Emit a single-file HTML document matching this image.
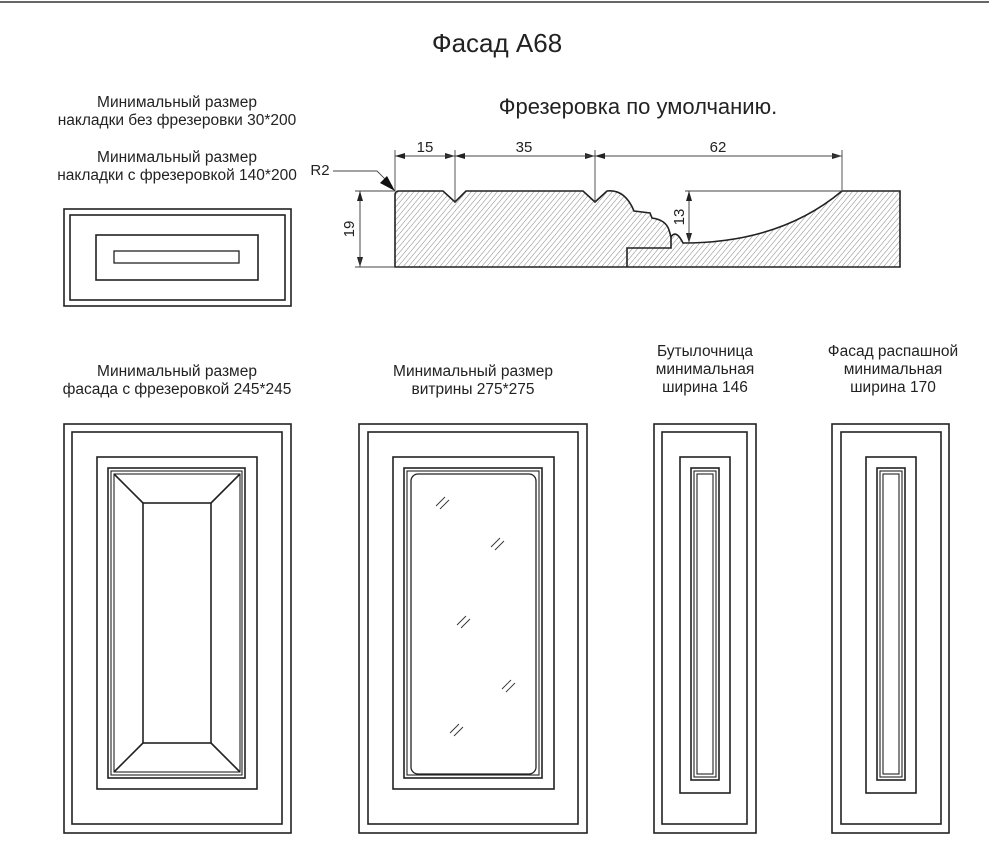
<!DOCTYPE html>
<html><head><meta charset="utf-8"><style>
body{margin:0;background:#fff;}
svg text{font-family:"Liberation Sans",sans-serif;fill:#222;}
</style></head><body>
<svg width="989" height="852" viewBox="0 0 989 852" xmlns="http://www.w3.org/2000/svg">
<defs>
<pattern id="h" width="4" height="4" patternUnits="userSpaceOnUse" patternTransform="rotate(40)">
<line x1="0" y1="0" x2="0" y2="4" stroke="#666" stroke-width="0.8"/>
</pattern>
<marker id="a" markerWidth="10" markerHeight="6" refX="10" refY="3" orient="auto" markerUnits="userSpaceOnUse"><path d="M0,0L10,3L0,6z" fill="#222"/></marker>
</defs>
<line x1="0" y1="2" x2="989" y2="2" stroke="#333" stroke-width="1.5"/>
<text x="497" y="52" font-size="26" text-anchor="middle">Фасад А68</text>
<g font-size="15.5" text-anchor="middle">
<text x="177" y="107">Минимальный размер</text>
<text x="177" y="125">накладки без фрезеровки 30*200</text>
<text x="177" y="162">Минимальный размер</text>
<text x="177" y="180">накладки с фрезеровкой 140*200</text>
<text x="177" y="376">Минимальный размер</text>
<text x="177" y="394">фасада с фрезеровкой  245*245</text>
<text x="473" y="376">Минимальный размер</text>
<text x="473" y="394">витрины 275*275</text>
<text x="705" y="356">Бутылочница</text>
<text x="705" y="374">минимальная</text>
<text x="705" y="392">ширина 146</text>
<text x="893" y="356">Фасад распашной</text>
<text x="893" y="374">минимальная</text>
<text x="893" y="392">ширина 170</text>
</g>
<text x="638" y="114" font-size="22" text-anchor="middle">Фрезеровка по умолчанию.</text>
<g fill="none" stroke="#222" stroke-width="1.6">
<rect x="64" y="209" width="227" height="97"/>
<rect x="70" y="215" width="215" height="85"/>
<rect x="96" y="235" width="162" height="45"/>
<rect x="114" y="251" width="125" height="12" stroke-width="1.3"/>
<rect x="64" y="424" width="227" height="409"/>
<rect x="72" y="432" width="210" height="392"/>
<rect x="97" y="457" width="160" height="332"/>
<rect x="108" y="468" width="137" height="310"/>
<rect x="111" y="471" width="131" height="304" stroke-width="1.1"/>
<rect x="114" y="474" width="126" height="298" stroke-width="1.1"/>
<rect x="143" y="503" width="68" height="240"/>
<line x1="114" y1="474" x2="143" y2="503"/><line x1="240" y1="474" x2="211" y2="503"/>
<line x1="114" y1="772" x2="143" y2="743"/><line x1="240" y1="772" x2="211" y2="743"/>
<rect x="359" y="424" width="228" height="409"/>
<rect x="368" y="432" width="210" height="392"/>
<rect x="393" y="457" width="161" height="332"/>
<rect x="404" y="468" width="138" height="310"/>
<rect x="407" y="471" width="132" height="304" stroke-width="1.1"/>
<rect x="411" y="474" width="125" height="300" rx="7" stroke-width="1.3"/>
<rect x="654" y="424" width="102" height="409"/>
<rect x="662" y="432" width="85" height="392"/>
<rect x="680" y="457" width="50" height="336"/>
<rect x="691" y="468" width="28" height="312"/>
<rect x="694" y="471" width="22" height="306" stroke-width="1.1"/>
<rect x="697" y="474" width="16" height="300" stroke-width="1.1"/>
<rect x="832" y="424" width="117" height="409"/>
<rect x="841" y="432" width="100" height="392"/>
<rect x="866" y="457" width="50" height="336"/>
<rect x="877" y="468" width="28" height="312"/>
<rect x="880" y="471" width="22" height="306" stroke-width="1.1"/>
<rect x="883" y="474" width="16" height="300" stroke-width="1.1"/>
</g>
<g stroke="#333" stroke-width="0.9">
<path d="M436,506l9,-9M440,509l9,-9M491,547l9,-9M495,550l9,-9M457,625l9,-9M461,628l9,-9M502,689l9,-9M506,692l9,-9M450,733l9,-9M454,736l9,-9"/>
</g>
<path d="M395,267 L395,195 Q395,191 399,191 L443,191 L455,202 L466,191 L583,191 L595,202 L607,191 Q625,189 634,211 L650,213 L652,218 Q666,220 669,230 L671,237 Q676,229 683,243 Q780,243 842,191 L900,191 L900,267 Z" fill="url(#h)" stroke="#222" stroke-width="1.6"/>
<path d="M627,267 L627,248 L671,248 L671,237" fill="none" stroke="#222" stroke-width="1.6"/>
<g stroke="#444" stroke-width="0.9" fill="none">
<line x1="395" y1="191" x2="395" y2="150"/><line x1="455" y1="202" x2="455" y2="150"/>
<line x1="595" y1="202" x2="595" y2="150"/><line x1="842" y1="191" x2="842" y2="150"/>
<line x1="395" y1="156" x2="455" y2="156" marker-end="url(#a)"/><line x1="455" y1="156" x2="395" y2="156" marker-end="url(#a)"/>
<line x1="455" y1="156" x2="595" y2="156" marker-end="url(#a)"/><line x1="595" y1="156" x2="455" y2="156" marker-end="url(#a)"/>
<line x1="595" y1="156" x2="842" y2="156" marker-end="url(#a)"/><line x1="842" y1="156" x2="595" y2="156" marker-end="url(#a)"/>
<line x1="355" y1="191" x2="395" y2="191"/><line x1="355" y1="267" x2="395" y2="267"/>
<line x1="360" y1="191" x2="360" y2="267" marker-end="url(#a)"/><line x1="360" y1="267" x2="360" y2="191" marker-end="url(#a)"/>
<line x1="685" y1="191" x2="842" y2="191"/>
<line x1="689" y1="191" x2="689" y2="243" marker-end="url(#a)"/><line x1="689" y1="243" x2="689" y2="191" marker-end="url(#a)"/>
<polyline points="333,171 377,171 392,186"/>
</g>
<path d="M395,191 L380,183 L387,176 Z" fill="#111"/>
<g font-size="15" text-anchor="middle">
<text x="425" y="152">15</text><text x="524" y="152">35</text><text x="718" y="152">62</text>
<text x="320" y="175">R2</text>
<text transform="translate(354,229) rotate(-90)">19</text>
<text transform="translate(684,217) rotate(-90)">13</text>
</g>
</svg>
</body></html>
